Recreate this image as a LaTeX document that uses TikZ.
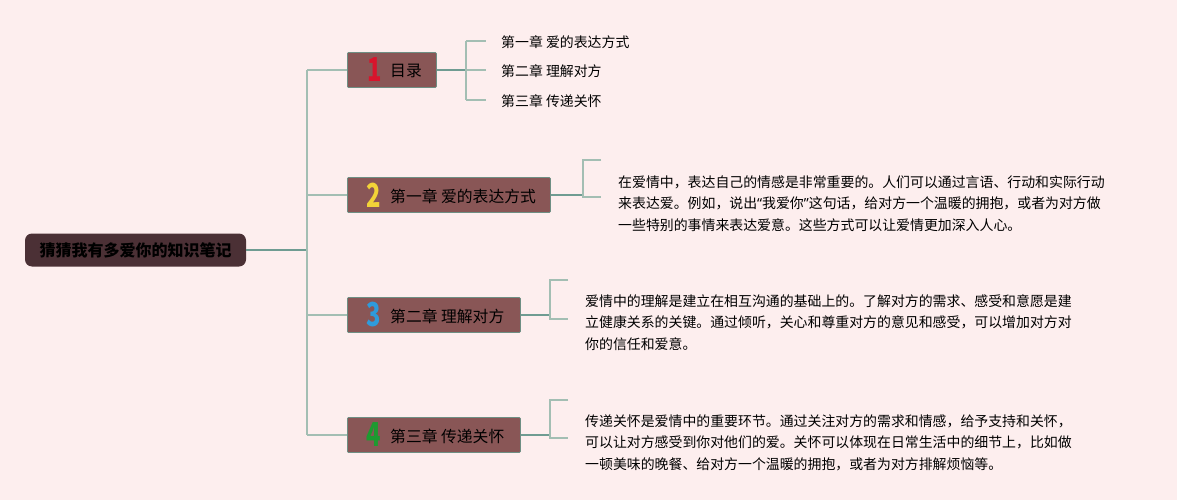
\documentclass[tikz,border=0pt]{standalone}
\usepackage{graphicx}
\usepackage{fontspec}
\newfontfamily\cjk{Noto Sans CJK SC}
\newfontfamily\latq{Noto Sans}
\definecolor{bgc}{HTML}{FDEEEE}
\definecolor{rootc}{HTML}{4B3035}
\definecolor{boxc}{HTML}{895656}
\definecolor{boxline}{HTML}{6E8F84}
\definecolor{darkline}{HTML}{6F9C92}
\definecolor{lightline}{HTML}{A3BEB3}
\definecolor{numred}{HTML}{D8142C}
\definecolor{numyellow}{HTML}{F2D338}
\definecolor{numblue}{HTML}{2F9BDB}
\definecolor{numgreen}{HTML}{1E9A30}
\newcommand{\bignum}[1]{\scalebox{0.72}[1]{#1}}
\tikzset{
  rootbox/.style={fill=rootc, rounded corners=7pt, inner sep=0pt, minimum height=33pt, text width=221pt, align=center, font=\cjk\fontsize{16}{18}\selectfont\bfseries, text=black},
  mainbox/.style={fill=boxc, draw=boxline, line width=0.8pt, rounded corners=1pt, inner sep=0pt, minimum height=35pt, anchor=west},
  boxtxt/.style={font=\cjk\fontsize{15.8}{18}\selectfont, text=black, anchor=west, inner sep=0pt},
  num/.style={font=\cjk\fontsize{33}{34}\selectfont\bfseries, inner sep=0pt},
  subtxt/.style={font=\cjk\fontsize{13.9}{16}\selectfont, anchor=west, inner sep=0pt, text=black},
  para/.style={font=\cjk\fontsize{13.9}{21.4}\selectfont, anchor=north west, inner sep=0pt, align=left, text=black},
  dline/.style={draw=darkline, line width=1.6pt},
  lline/.style={draw=lightline, line width=1.6pt},
}
\begin{document}
\begin{tikzpicture}[x=1pt,y=-1pt]
\fill[bgc] (0,0) rectangle (1177,500);
\useasboundingbox (0,0) rectangle (1177,500);

% root
\node[rootbox] (root) at (135.5,250) {猜猜我有多爱你的知识笔记};

% main boxes
\node[mainbox, minimum width=89pt] (b1) at (347,70) {};
\node[mainbox, minimum width=203pt] (b2) at (347,195) {};
\node[mainbox, minimum width=173pt] (b3) at (347,315) {};
\node[mainbox, minimum width=173pt] (b4) at (347,435) {};

\node[num, text=numred] (n1) at (375,70) {\bignum{1}};
\node[boxtxt] (t1) at (390,71) {目录};
\node[num, text=numyellow] (n2) at (374,195) {\bignum{2}};
\node[boxtxt] (t2) at (390,196) {第一章 爱的表达方式};
\node[num, text=numblue] (n3) at (374,315) {\bignum{3}};
\node[boxtxt] (t3) at (390,316) {第二章 理解对方};
\node[num, text=numgreen] (n4) at (374,435) {\bignum{4}};
\node[boxtxt] (t4) at (390,436) {第三章 传递关怀};

% trunk
\coordinate (tr) at (307,250);
\coordinate (tt) at (307,70);
\coordinate (tb) at (307,435);
\path[dline] (root.east) -- (tr);
\path[lline] (tt) -- (tb);
\path[lline] (tt) -- (b1.west);
\path[lline] (307,195) -- (b2.west);
\path[lline] (307,315) -- (b3.west);
\path[lline] (tb) -- (b4.west);

% box 1 children
\node[subtxt] (s1) at (501,42) {第一章 爱的表达方式};
\node[subtxt] (s2) at (501,71) {第二章 理解对方};
\node[subtxt] (s3) at (501,101) {第三章 传递关怀};
\coordinate (k1) at (466,70);
\path[dline] (b1.east) -- (k1);
\path[lline] (466,41) -- (466,100);
\path[lline] (466,41) -- (486,41);
\path[lline] (466,70) -- (486,70);
\path[lline] (466,100) -- (486,100);

% box 2 paragraph
\coordinate (k2) at (583,195);
\path[dline] (b2.east) -- (k2);
\path[lline] (601,160) -- (583,160) -- (583,197) -- (601,197);
\node[para] (p2) at (618,175.5) {在爱情中，表达自己的情感是非常重要的。人们可以通过言语、行动和实际行动\\来表达爱。例如，说出{\latq“}我爱你{\latq”}这句话，给对方一个温暖的拥抱，或者为对方做\\一些特别的事情来表达爱意。这些方式可以让爱情更加深入人心。};

% box 3 paragraph
\coordinate (k3) at (550,315);
\path[dline] (b3.east) -- (k3);
\path[lline] (568,280) -- (550,280) -- (550,319) -- (568,319);
\node[para] (p3) at (585,294.5) {爱情中的理解是建立在相互沟通的基础上的。了解对方的需求、感受和意愿是建\\立健康关系的关键。通过倾听，关心和尊重对方的意见和感受，可以增加对方对\\你的信任和爱意。};

% box 4 paragraph
\coordinate (k4) at (550,435);
\path[dline] (b4.east) -- (k4);
\path[lline] (568,400) -- (550,400) -- (550,438) -- (568,438);
\node[para] (p4) at (585,414.5) {传递关怀是爱情中的重要环节。通过关注对方的需求和情感，给予支持和关怀，\\可以让对方感受到你对他们的爱。关怀可以体现在日常生活中的细节上，比如做\\一顿美味的晚餐、给对方一个温暖的拥抱，或者为对方排解烦恼等。};
\end{tikzpicture}
\end{document}
